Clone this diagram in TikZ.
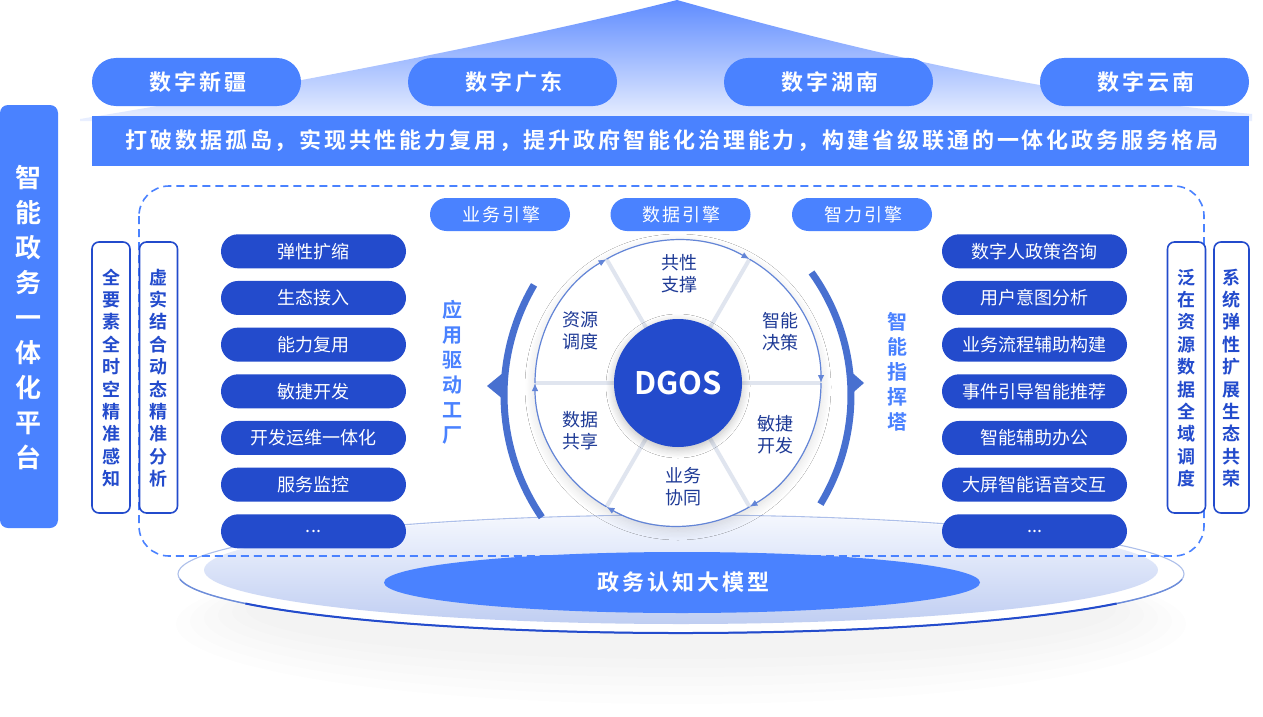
\documentclass[tikz,border=0pt]{standalone}
\usepackage{fontspec}
\setmainfont{Noto Sans CJK SC}[BoldFont={Noto Sans CJK SC Bold}]
\usetikzlibrary{shadows.blur,arrows.meta,calc,shapes.geometric}
\newcommand\threedots{...}
\newcommand\lsgap{0pt}
\newcommand\spaced[2]{\renewcommand\lsgap{#1}\hspace{#1}\lsloop#2\relax}
\def\lsloop#1{\ifx#1\relax\else#1\hspace{\lsgap}\expandafter\lsloop\fi}
\definecolor{cLight}{RGB}{74,130,255}
\definecolor{cDark}{RGB}{35,75,204}
\definecolor{cArc}{RGB}{72,112,208}
\definecolor{cNavy}{RGB}{30,58,150}
\definecolor{cSep}{RGB}{224,229,239}
\definecolor{cRoofT}{RGB}{95,140,255}
\definecolor{cRoofB}{RGB}{234,240,255}
\definecolor{cPlatT}{RGB}{244,247,254}
\definecolor{cPlatB}{RGB}{192,206,242}
\tikzset{
  topPill/.style={fill=cLight, rounded corners=24pt, minimum width=209pt, minimum height=48pt, inner sep=0pt, text=white, font=\bfseries\fontsize{22}{26}\selectfont},
  bandbox/.style={fill=cLight, minimum width=1157pt, minimum height=50pt, inner sep=0pt, text=white, font=\bfseries\fontsize{22}{26}\selectfont},
  sidebar/.style={fill=cLight, rounded corners=8pt, minimum width=58pt, minimum height=423pt, inner sep=0pt},
  vbox/.style={draw=cDark, line width=1.6pt, fill=white, rounded corners=7pt, minimum width=38pt, minimum height=271pt, inner sep=0pt},
  vtext/.style={text=cDark, align=center, inner sep=0pt, font=\bfseries\fontsize{18}{22.4}\selectfont},
  pill/.style={fill=cDark, rounded corners=17pt, minimum width=185pt, minimum height=34pt, inner sep=0pt, text=white, font=\fontsize{18}{20}\selectfont},
  engine/.style={fill=cLight, rounded corners=16.5pt, minimum width=140pt, minimum height=33pt, inner sep=0pt, text=white, font=\fontsize{18}{20}\selectfont},
  sidetitle/.style={text=cLight, align=center, inner sep=0pt, font=\bfseries\fontsize{20}{25}\selectfont},
  sector/.style={text=cNavy, align=center, inner sep=0pt, font=\fontsize{18}{22}\selectfont},
  rimarrow/.style={draw=cArc!85, line width=1.2pt, -{Latex[length=8pt,width=6.5pt]}},
  sepline/.style={draw=cSep, line width=4pt},
  bigarc/.style={draw=cArc, line width=7pt},
}
\begin{document}
\begin{tikzpicture}[x=1pt,y=-1pt]
\useasboundingbox (0,0) rectangle (1263,717);
\fill[white] (0,0) rectangle (1263,717);
% roof
\shade[top color=cRoofT, bottom color=cRoofB] (80,119) .. controls (330,78) and (560,30) .. (677,0) .. controls (820,40) and (1020,92) .. (1252,114) -- (1252,121) -- (80,121) -- cycle;
% top pills
\node[topPill] (p1) at (196.5,82) {\spaced{3pt}{数字新疆}};
\node[topPill] (p2) at (512.5,82) {\spaced{3pt}{数字广东}};
\node[topPill] (p3) at (828.5,82) {\spaced{3pt}{数字湖南}};
\node[topPill] (p4) at (1144.5,82) {\spaced{3pt}{数字云南}};
\node[bandbox] (band) at (670.5,141) {\spaced{2.9pt}{打破数据孤岛，实现共性能力复用，提升政府智能化治理能力，构建省级联通的一体化政务服务格局}};
% left bar
\node[sidebar] (bar) at (29,316.5) {};
\node[text=white, align=center, inner sep=0pt, font=\bfseries\fontsize{26}{35}\selectfont] (bartext) at (29,318) {智\\能\\政\\务\\一\\体\\化\\平\\台};
% platform shadow
\foreach \k in {0,1,2,3,4,5}
  \fill[black, opacity=0.007] (681,{624-3*\k}) ellipse[x radius={505-14*\k}, y radius={80-6*\k}];
% platform
\fill[white] (681,574) ellipse[x radius=503, y radius=59];
\draw[cArc!45, line width=1.1pt] (681,574) ellipse[x radius=503, y radius=59];
\draw[cArc!80, line width=1.4pt] ($(681,574)+(5:503 and 59)$) arc[start angle=5, end angle=175, x radius=503, y radius=59];
\draw[cDark, line width=2pt] ($(681,574)+(30:503 and 59)$) arc[start angle=30, end angle=150, x radius=503, y radius=59];
\shade[top color=cPlatT, bottom color=cPlatB] (681,570) ellipse[x radius=477, y radius=54];
% dashed frame
\draw[cLight, line width=1.6pt, dash pattern=on 8pt off 5pt, rounded corners=30pt] (139,186) rectangle (1204,556);
% vertical boxes
\node[vbox] (vb1) at (111,377.5) {};
\node[vtext] (vt1) at (111,378) {全\\要\\素\\全\\时\\空\\精\\准\\感\\知};
\node[vbox] (vb2) at (158.5,377.5) {};
\node[vtext] (vt2) at (158.5,378) {虚\\实\\结\\合\\动\\态\\精\\准\\分\\析};
\node[vbox] (vb3) at (1186.5,377.5) {};
\node[vtext] (vt3) at (1186.5,378) {泛\\在\\资\\源\\数\\据\\全\\域\\调\\度};
\node[vbox, minimum width=35pt] (vb4) at (1231.5,377.5) {};
\node[vtext] (vt4) at (1231.5,378) {系\\统\\弹\\性\\扩\\展\\生\\态\\共\\荣};
% pills
\foreach \t [count=\i] in {弹性扩缩,生态接入,能力复用,敏捷开发,开发运维一体化,服务监控,\threedots}
  \node[pill] (L\i) at (313.5,{251.3+46.67*(\i-1)}) {\t};
\foreach \t [count=\i] in {数字人政策咨询,用户意图分析,业务流程辅助构建,事件引导智能推荐,智能辅助办公,大屏智能语音交互,\threedots}
  \node[pill] (R\i) at (1034.5,{251.3+46.67*(\i-1)}) {\t};
% engines
\node[engine] (e1) at (500,214.5) {\spaced{2pt}{业务引擎}};
\node[engine] (e2) at (680.5,214.5) {\spaced{2pt}{数据引擎}};
\node[engine] (e3) at (862,214.5) {\spaced{2pt}{智力引擎}};
% side titles
\node[sidetitle] (f1) at (452,372) {应\\用\\驱\\动\\工\\厂};
\node[sidetitle] (f2) at (897,372) {智\\能\\指\\挥\\塔};
% big arcs
\draw[bigarc] ($(721,395)+(-214.3:217)$) arc[start angle=-214.3, end angle=-149.5, radius=217];
\fill[cArc] (487,386) -- (504,372) -- (504,400) -- cycle;
\draw[bigarc] ($(641,395)+(-35.7:210)$) arc[start angle=-35.7, end angle=31.3, radius=210];
\fill[cArc] (864,383) -- (848,369) -- (848,397) -- cycle;
% central wheel
\coordinate (cc) at (678,383);
\fill[white, blur shadow={shadow xshift=0pt, shadow yshift=-4pt, shadow blur radius=10pt, shadow opacity=14, shadow blur steps=8}] (cc) circle[radius=143];
\foreach \a in {0,60,120,180,240,300}
  \draw[sepline] ($(cc)+(\a:62)$) -- ($(cc)+(\a:143)$);
\foreach \a in {-120,-60,0,60,120,180}
  \draw[rimarrow] ($(cc)+(\a:143)$) arc[start angle=\a, end angle=\a+60, radius=143];
\node[circle, fill=cDark, minimum size=128pt, inner sep=0pt, text=white, font=\bfseries\fontsize{31}{34}\selectfont, blur shadow={shadow xshift=0pt, shadow yshift=-3pt, shadow blur radius=8pt, shadow opacity=25, shadow blur steps=8}] (dgos) at (cc) {DGOS};
\node[sector] (s1) at (679,274) {共性\\支撑};
\node[sector] (s2) at (780,332) {智能\\决策};
\node[sector] (s3) at (775,435) {敏捷\\开发};
\node[sector] (s4) at (683,487) {业务\\协同};
\node[sector] (s5) at (580,431) {数据\\共享};
\node[sector] (s6) at (580,331) {资源\\调度};
% model ellipse
\node[ellipse, fill=cLight, minimum width=596pt, minimum height=61pt, inner sep=0pt, text=white, font=\bfseries\fontsize{22}{26}\selectfont] (model) at (682,582.5) {\spaced{3pt}{政务认知大模型}};
\end{tikzpicture}
\end{document}
